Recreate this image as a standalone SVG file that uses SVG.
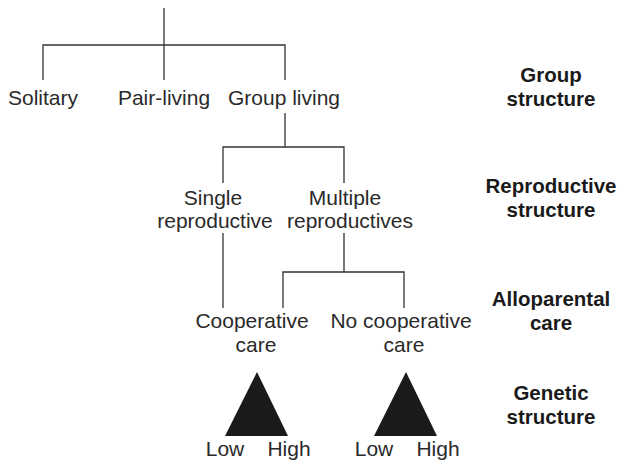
<svg xmlns="http://www.w3.org/2000/svg" width="622" height="461" viewBox="0 0 622 461">
<style>
.t{font-family:"Liberation Sans",Arial,sans-serif;font-size:21px;fill:#2a2a2a;text-anchor:middle}
.b{font-family:"Liberation Sans",Arial,sans-serif;font-size:20.5px;font-weight:bold;fill:#1a1a1a;text-anchor:middle}
.ln{stroke:#333;stroke-width:1.3;fill:none}
.tri{fill:#1a1a1a}
</style>
<rect width="622" height="461" fill="#fff"/>
<g id="connectors">
<path class="ln" d="M164,8V80M43,80V45H285V80"/>
<path class="ln" d="M285,113V147M223,183V147H344V183"/>
<path class="ln" d="M223,233V308"/>
<path class="ln" d="M344,233V272M283,308V272H404V308"/>
</g>
<g id="solitary"><text class="t" x="43" y="105">Solitary</text></g>
<g id="pair-living"><text class="t" x="164" y="105">Pair-living</text></g>
<g id="group-living"><text class="t" x="284" y="105">Group living</text></g>
<g id="single-reproductive"><text class="t" x="213" y="205">Single</text><text class="t" x="215" y="228">reproductive</text></g>
<g id="multiple-reproductives"><text class="t" x="345" y="205">Multiple</text><text class="t" x="350" y="228">reproductives</text></g>
<g id="cooperative-care"><text class="t" x="252" y="328">Cooperative</text><text class="t" x="256" y="352">care</text></g>
<g id="no-cooperative-care"><text class="t" x="401" y="328">No cooperative</text><text class="t" x="404" y="352">care</text></g>
<g id="genetic-left"><polygon class="tri" points="257,372 288,436 225,436"/><text class="t" x="225" y="456">Low</text><text class="t" x="289" y="456">High</text></g>
<g id="genetic-right"><polygon class="tri" points="406,372 437,436 374,436"/><text class="t" x="374" y="456">Low</text><text class="t" x="438" y="456">High</text></g>
<g id="label-group"><text class="b" x="551" y="82">Group</text><text class="b" x="551" y="106">structure</text></g>
<g id="label-reproductive"><text class="b" x="551" y="193">Reproductive</text><text class="b" x="551" y="217">structure</text></g>
<g id="label-alloparental"><text class="b" x="551" y="306">Alloparental</text><text class="b" x="551" y="330">care</text></g>
<g id="label-genetic"><text class="b" x="551" y="400">Genetic</text><text class="b" x="551" y="424">structure</text></g>
</svg>
